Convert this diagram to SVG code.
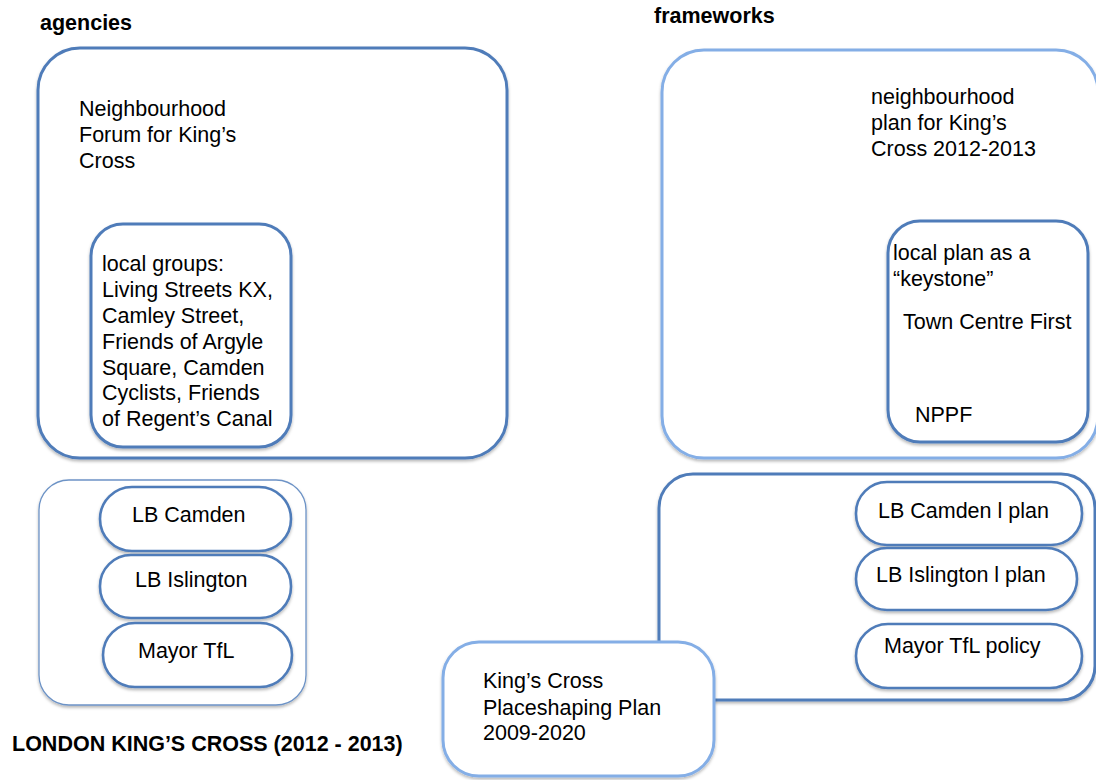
<svg xmlns="http://www.w3.org/2000/svg" width="1096" height="780" viewBox="0 0 1096 780">
  <defs>
    <filter id="shadow" x="-5%" y="-5%" width="110%" height="115%">
      <feDropShadow dx="0" dy="2" stdDeviation="1.6" flood-color="#000" flood-opacity="0.28"/>
    </filter>
  </defs>
  <style>
    text { font-family: "Liberation Sans", Arial, sans-serif; font-size: 21.5px; fill: #000; }
    .title { font-weight: bold; }
    .box { fill: #fff; filter: url(#shadow); }
    .dark { stroke: #4f7cb9; stroke-width: 3; }
    .light { stroke: #84aee6; stroke-width: 3; }
    .thin { stroke: #6d93c6; stroke-width: 1.3; }
    .pill { fill: #fff; stroke: #4f7cb9; stroke-width: 2.6; filter: url(#shadow); }
  </style>

  <rect width="1096" height="780" fill="#fff"/>

  <!-- headings -->
  <text class="title" x="40" y="30">agencies</text>
  <text class="title" x="654" y="23">frameworks</text>
  <text class="title" x="12" y="751">LONDON KING’S CROSS (2012 - 2013)</text>

  <!-- agencies: neighbourhood forum -->
  <g id="forum">
    <rect class="box dark" x="38" y="48" width="469" height="410" rx="42"/>
    <text x="79" y="116">Neighbourhood</text>
    <text x="79" y="142">Forum for King’s</text>
    <text x="79" y="168">Cross</text>
  </g>

  <g id="local-groups">
    <rect class="box dark" x="91" y="224" width="200" height="223" rx="32"/>
    <text x="102" y="271">local groups:</text>
    <text x="102" y="297">Living Streets KX,</text>
    <text x="102" y="323">Camley Street,</text>
    <text x="102" y="349">Friends of Argyle</text>
    <text x="102" y="375">Square, Camden</text>
    <text x="102" y="400">Cyclists, Friends</text>
    <text x="102" y="426">of Regent’s Canal</text>
  </g>

  <!-- agencies: boroughs and mayor -->
  <g id="authorities">
    <rect class="box thin" x="39" y="480" width="267" height="225" rx="30"/>
  </g>
  <g id="lb-camden">
    <rect class="pill" x="100" y="487" width="191" height="64" rx="32"/>
    <text x="132" y="522">LB Camden</text>
  </g>
  <g id="lb-islington">
    <rect class="pill" x="100" y="555" width="191" height="63" rx="31"/>
    <text x="135" y="587">LB Islington</text>
  </g>
  <g id="mayor-tfl">
    <rect class="pill" x="103" y="623" width="189" height="64" rx="32"/>
    <text x="138" y="658">Mayor TfL</text>
  </g>

  <!-- frameworks: neighbourhood plan -->
  <g id="neighbourhood-plan">
    <rect class="box light" x="662" y="50" width="436" height="408" rx="42"/>
    <text x="871" y="104">neighbourhood</text>
    <text x="871" y="130">plan for King’s</text>
    <text x="871" y="156">Cross 2012-2013</text>
  </g>

  <g id="local-plan">
    <rect class="box dark" x="888" y="221" width="200" height="221" rx="32"/>
    <text x="893" y="260">local plan as a</text>
    <text x="893" y="286">“keystone”</text>
    <text x="903" y="329">Town Centre First</text>
    <text x="915" y="422">NPPF</text>
  </g>

  <!-- frameworks: borough plans -->
  <g id="borough-plans">
    <rect class="box dark" x="659" y="474" width="436" height="226" rx="34"/>
  </g>
  <g id="camden-plan">
    <rect class="pill" x="856" y="482" width="226" height="63" rx="31"/>
    <text x="878" y="518">LB Camden l plan</text>
  </g>
  <g id="islington-plan">
    <rect class="pill" x="856" y="548" width="221" height="62" rx="31"/>
    <text x="876" y="582">LB Islington l plan</text>
  </g>
  <g id="mayor-policy">
    <rect class="pill" x="856" y="624" width="226" height="64" rx="32"/>
    <text x="884" y="653">Mayor TfL policy</text>
  </g>

  <g id="placeshaping-plan">
    <rect class="box light" x="443" y="642" width="271" height="134" rx="36"/>
    <text x="483" y="688">King’s Cross</text>
    <text x="483" y="715">Placeshaping Plan</text>
    <text x="483" y="740">2009-2020</text>
  </g>

  <!-- no connectors in this layout -->
  <g id="connectors"/>
</svg>
